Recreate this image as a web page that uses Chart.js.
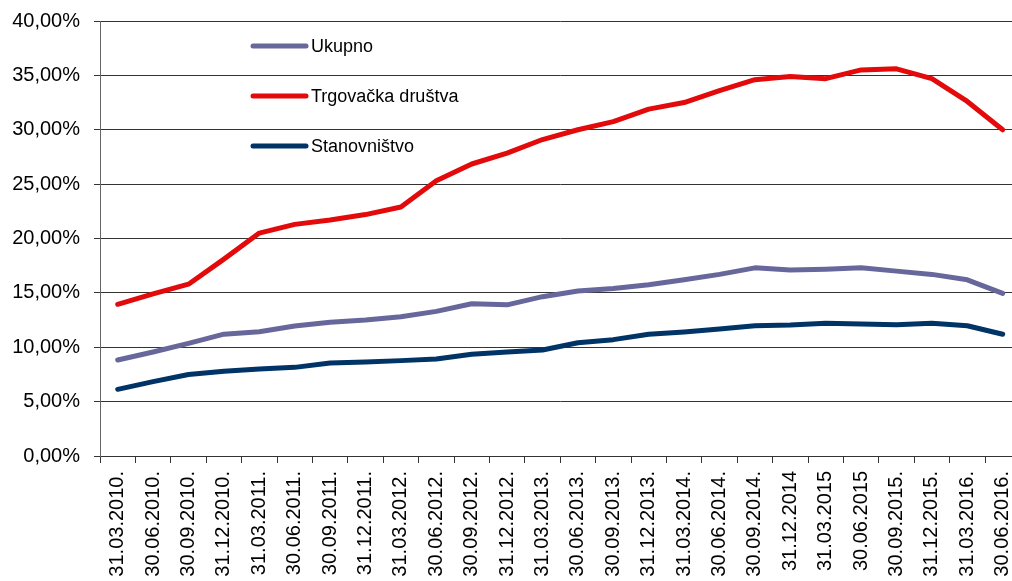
<!DOCTYPE html>
<html>
<head>
<meta charset="utf-8">
<script src="https://cdn.jsdelivr.net/npm/chart.js@4/dist/chart.umd.min.js"></script>
<style>
  html, body { margin: 0; padding: 0; background: #fff; overflow: hidden; }
  #chart { display: block; }
</style>
</head>
<body>
<canvas id="chart" width="1022" height="581"></canvas>
<script>
// quarterly dates
const quarters = [
  '31.03.2010.', '30.06.2010.', '30.09.2010.', '31.12.2010.',
  '31.03.2011.', '30.06.2011.', '30.09.2011.', '31.12.2011.',
  '31.03.2012.', '30.06.2012.', '30.09.2012.', '31.12.2012.',
  '31.03.2013.', '30.06.2013.', '30.09.2013.', '31.12.2013.',
  '31.03.2014.', '30.06.2014.', '30.09.2014.', '31.12.2014',
  '31.03.2015', '30.06.2015', '30.09.2015.', '31.12.2015.',
  '31.03.2016.', '30.06.2016.'
];

// shares in %
const ukupno = [
  8.83, 9.56, 10.36, 11.2, 11.43, 11.95, 12.3, 12.5, 12.8, 13.3,
  14.0, 13.9, 14.65, 15.17, 15.4, 15.75, 16.2, 16.7, 17.3, 17.1,
  17.17, 17.3, 17.0, 16.7, 16.2, 14.95
];
const trgovackaDrustva = [
  13.95, 14.9, 15.8, 18.1, 20.5, 21.3, 21.7, 22.2, 22.9, 25.3,
  26.85, 27.85, 29.1, 30.0, 30.75, 31.9, 32.5, 33.6, 34.6, 34.9,
  34.7, 35.5, 35.6, 34.7, 32.6, 30.0
];
const stanovnistvo = [
  6.13, 6.84, 7.5, 7.8, 8.0, 8.15, 8.55, 8.64, 8.77, 8.92,
  9.35, 9.56, 9.75, 10.42, 10.7, 11.19, 11.4, 11.68, 11.98, 12.05,
  12.2, 12.14, 12.08, 12.2, 11.98, 11.2
];

const FONT = "'Liberation Sans', Arial, sans-serif";

// legend drawn inside the plot area
const innerLegend = {
  id: 'innerLegend',
  afterDraw(chart, args, opts) {
    const ctx = chart.ctx;
    ctx.save();
    chart.data.datasets.forEach((ds, i) => {
      const y = opts.y + i * opts.gap;
      ctx.strokeStyle = ds.borderColor;
      ctx.lineWidth = 5;
      ctx.lineCap = 'round';
      ctx.beginPath();
      ctx.moveTo(opts.x, y);
      ctx.lineTo(opts.x + opts.len, y);
      ctx.stroke();
      ctx.fillStyle = '#000';
      ctx.font = '18px ' + FONT;
      ctx.textBaseline = 'middle';
      ctx.textAlign = 'left';
      ctx.fillText(ds.label, opts.x + opts.len + 5, y + 1);
    });
    ctx.restore();
  }
};

function line(label, data, color) {
  return {
    label, data,
    borderColor: color,
    backgroundColor: color,
    borderWidth: 5,
    pointRadius: 0,
    tension: 0,
    borderJoinStyle: 'round',
    borderCapStyle: 'round',
    fill: false
  };
}

new Chart(document.getElementById('chart'), {
  type: 'line',
  data: {
    labels: quarters,
    datasets: [
      line('Ukupno', ukupno, '#67679c'),
      line('Trgovačka društva', trgovackaDrustva, '#e20a0a'),
      line('Stanovništvo', stanovnistvo, '#003366')
    ]
  },
  options: {
    responsive: false,
    animation: false,
    layout: { padding: { top: 21, right: 1.6, left: 0, bottom: 0 } },
    plugins: {
      legend: { display: false },
      tooltip: { enabled: false },
      innerLegend: { x: 253, y: 46, gap: 50, len: 53 }
    },
    scales: {
      x: {
        offset: true,
        grid: {
          offset: true,
          drawOnChartArea: false,
          color: '#333',
          tickLength: 7
        },
        border: { color: '#333' },
        ticks: {
          autoSkip: false,
          minRotation: 90,
          maxRotation: 90,
          padding: 8,
          color: '#000',
          font: { family: FONT, size: 20 }
        },
        afterFit(scale) {
          // fixed axis height, no extra room for the rotated end labels
          scale.height = 125;
          scale.paddingLeft = scale.paddingRight = 0;
          scale.paddingTop = scale.paddingBottom = 0;
        }
      },
      y: {
        min: 0,
        max: 40,
        grid: {
          color: '#333',
          lineWidth: 1,
          tickLength: 6
        },
        border: { color: '#666' },
        ticks: {
          stepSize: 5,
          padding: 14,
          color: '#000',
          font: { family: FONT, size: 20 },
          callback: v => v.toFixed(2).replace('.', ',') + '%'
        },
        afterFit(scale) {
          scale.width = 100;
          scale.paddingTop = scale.paddingBottom = 0;
        }
      }
    }
  },
  plugins: [innerLegend]
});
</script>
</body>
</html>
